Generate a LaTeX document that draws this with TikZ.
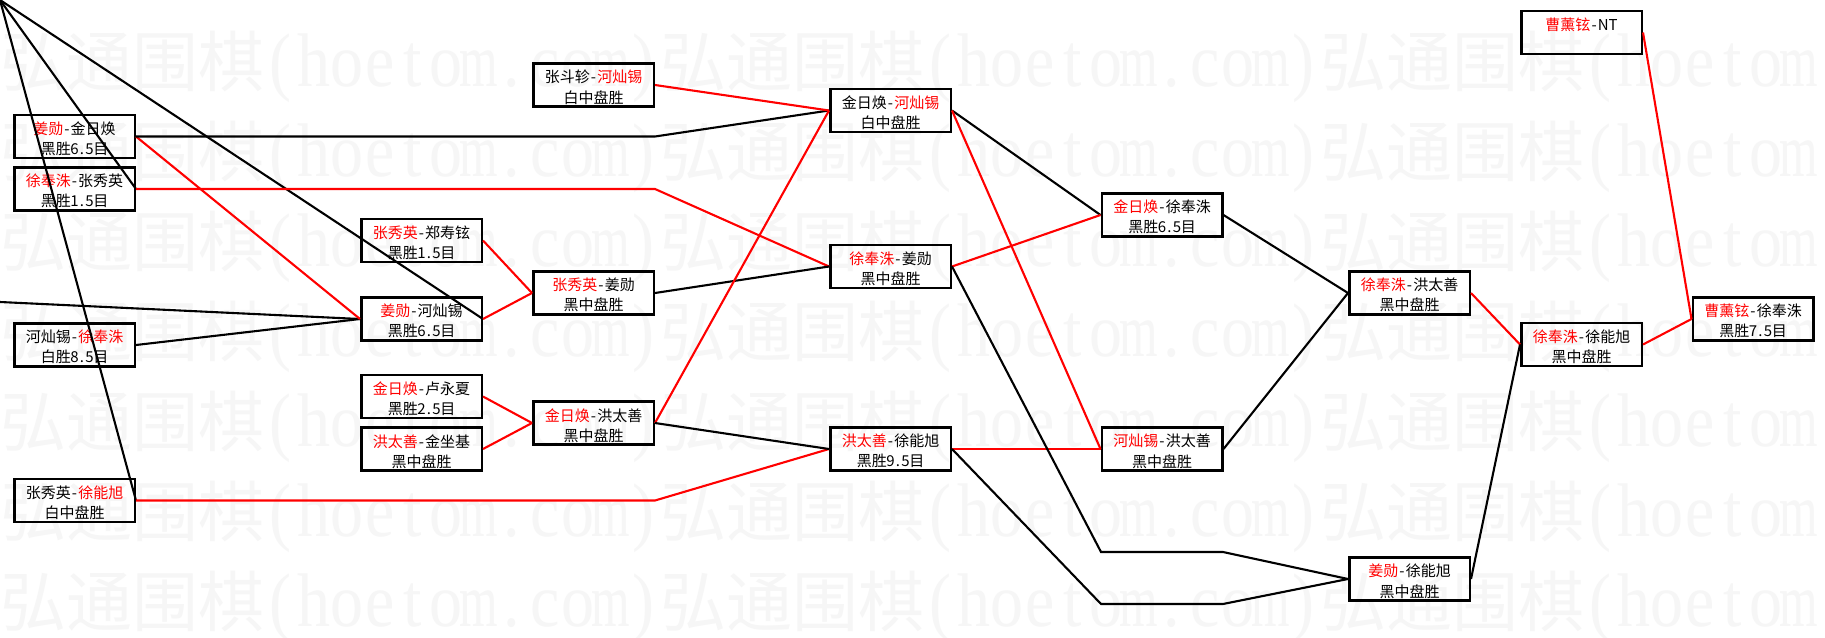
\documentclass[tikz,border=0pt]{standalone}
\usepackage{fontspec}
\newfontfamily\cjk{Noto Sans CJK SC}
\newfontfamily\wmlat{Liberation Serif}
\newcommand\hx[1]{\makebox[7.5pt][c]{#1}}
\newcommand\dsh{\hx{-}}
\newcommand\pnum[2]{\hx{#1}\hx{.}\hx{#2}}
\newcommand\wn[1]{\textcolor{red}{#1}}
\newcommand\wfw[1]{\makebox[66pt][c]{#1}}
\newcommand\whw[1]{\makebox[33pt][c]{\wmlat\scalebox{1}[1.15]{#1}}}
\newcommand\whm{\makebox[33pt][c]{\wmlat\scalebox{0.75}[1.15]{m}}}
\newcommand\wmunit{\wfw{弘}\wfw{通}\wfw{围}\wfw{棋}\whw{(}\whw{h}\whw{o}\whw{e}\whw{t}\whw{o}\whm\whw{.}\whw{c}\whw{o}\whm\whw{)}}
\newcommand\mkgame[5]{%
  \node[gbox] (#1) at (#2,#3) {};
  \node[gtxt] (#1a) at ([yshift=-15pt]#1.north) {#4};
  \node[gtxt] (#1b) at ([yshift=-35pt]#1.north) {#5};
}
\begin{document}
\begin{tikzpicture}[x=1pt,y=-1pt,
  gbox/.style={draw=black, line width=2.5pt, minimum width=120.5pt, minimum height=43pt, inner sep=0pt},
  gtxt/.style={inner sep=0pt, font=\cjk\fontsize{15pt}{18pt}\selectfont},
  wm/.style={anchor=west, inner sep=0pt, text=black!3.5, font=\cjk\fontsize{66pt}{66pt}\selectfont},
  bl/.style={draw=black, line width=2.1pt},
  rd/.style={draw=red, line width=2.1pt}]
\useasboundingbox (0,0) rectangle (1825,637);
\fill[white] (0,0) rectangle (1825,637);
\begin{scope}
\clip (0,0) rectangle (1825,637);
\foreach \k in {0,...,6} {
  \node[wm] (wm\k) at (0,{67+90*\k}) {\wmunit\wmunit\wmunit};
}
\end{scope}

% column A
\mkgame{A1}{74.5}{136.5}{\wn{姜勋}\dsh 金日焕}{黑胜\pnum{6}{5}目}
\mkgame{A2}{74.5}{189}{\wn{徐奉洙}\dsh 张秀英}{黑胜\pnum{1}{5}目}
\mkgame{A3}{74.5}{345}{河灿锡\dsh\wn{徐奉洙}}{白胜\pnum{8}{5}目}
\mkgame{A4}{74.5}{500.5}{张秀英\dsh\wn{徐能旭}}{白中盘胜}
% column B
\mkgame{B1}{421.5}{240.5}{\wn{张秀英}\dsh 郑寿铉}{黑胜\pnum{1}{5}目}
\mkgame{B2}{421.5}{319}{\wn{姜勋}\dsh 河灿锡}{黑胜\pnum{6}{5}目}
\mkgame{B3}{421.5}{396.5}{\wn{金日焕}\dsh 卢永夏}{黑胜\pnum{2}{5}目}
\mkgame{B4}{421.5}{449}{\wn{洪太善}\dsh 金坐基}{黑中盘胜}
% column C
\mkgame{C0}{593.5}{85}{张斗轸\dsh\wn{河灿锡}}{白中盘胜}
\mkgame{C1}{593.5}{293}{\wn{张秀英}\dsh 姜勋}{黑中盘胜}
\mkgame{C2}{593.5}{423}{\wn{金日焕}\dsh 洪太善}{黑中盘胜}
% column D
\mkgame{D1}{890.5}{110.5}{金日焕\dsh\wn{河灿锡}}{白中盘胜}
\mkgame{D2}{890.5}{266.5}{\wn{徐奉洙}\dsh 姜勋}{黑中盘胜}
\mkgame{D3}{890.5}{449}{\wn{洪太善}\dsh 徐能旭}{黑胜\pnum{9}{5}目}
% column E
\mkgame{E1}{1162}{215}{\wn{金日焕}\dsh 徐奉洙}{黑胜\pnum{6}{5}目}
\mkgame{E2}{1162}{449}{\wn{河灿锡}\dsh 洪太善}{黑中盘胜}
% column F
\mkgame{F1}{1409.5}{293}{\wn{徐奉洙}\dsh 洪太善}{黑中盘胜}
\mkgame{F2}{1409.5}{579}{\wn{姜勋}\dsh 徐能旭}{黑中盘胜}
% column G
\mkgame{NT}{1581.5}{32.5}{\wn{曹薰铉}\dsh NT}{}
\mkgame{G1}{1581.5}{344.5}{\wn{徐奉洙}\dsh 徐能旭}{黑中盘胜}
% column H
\mkgame{H1}{1753}{319}{\wn{曹薰铉}\dsh 徐奉洙}{黑胜\pnum{7}{5}目}

% free ends and bends
\coordinate (o) at (0,0);
\coordinate (l1) at (0,302);
\coordinate (r1) at (1101,552);
\coordinate (r2) at (1223,552);
\coordinate (r3) at (1101,604);
\coordinate (r4) at (1223,604);

% left edge connectors
\draw[bl] (o) -- (A4.east);
\draw[bl] (o) -- (A2.east);
\draw[bl] (o) -- (B2.east);
\draw[bl] (l1) -- (B2.west);
\draw[bl] (A3.east) -- (B2.west);
\draw[rd] (A1.east) -- (B2.west);
% long routed connectors
\draw[bl] (A1.east) -- (A1.east -| C2.east) -- (D1.west);
\draw[rd] (A2.east) -- (A2.east -| C2.east) -- (D2.west);
\draw[rd] (A4.east) -- (A4.east -| C2.east) -- (D3.west);
% B -> C
\draw[rd] (B1.east) -- (C1.west);
\draw[rd] (B2.east) -- (C1.west);
\draw[rd] (B3.east) -- (C2.west);
\draw[rd] (B4.east) -- (C2.west);
% C -> D
\draw[rd] (C0.east) -- (D1.west);
\draw[bl] (C1.east) -- (D2.west);
\draw[rd] (C2.east) -- (D1.west);
\draw[bl] (C2.east) -- (D3.west);
% D -> E / F
\draw[bl] (D1.east) -- (E1.west);
\draw[rd] (D1.east) -- (E2.west);
\draw[rd] (D2.east) -- (E1.west);
\draw[rd] (D3.east) -- (E2.west);
\draw[bl] (D2.east) -- (r1) -- (r2) -- (F2.west);
\draw[bl] (D3.east) -- (r3) -- (r4) -- (F2.west);
% E -> F
\draw[bl] (E1.east) -- (F1.west);
\draw[bl] (E2.east) -- (F1.west);
% F -> G
\draw[rd] (F1.east) -- (G1.west);
\draw[bl] (F2.east) -- (G1.west);
% G -> H
\draw[rd] (G1.east) -- (H1.west);
\draw[rd] (NT.east) -- (H1.west);
\end{tikzpicture}
\end{document}
